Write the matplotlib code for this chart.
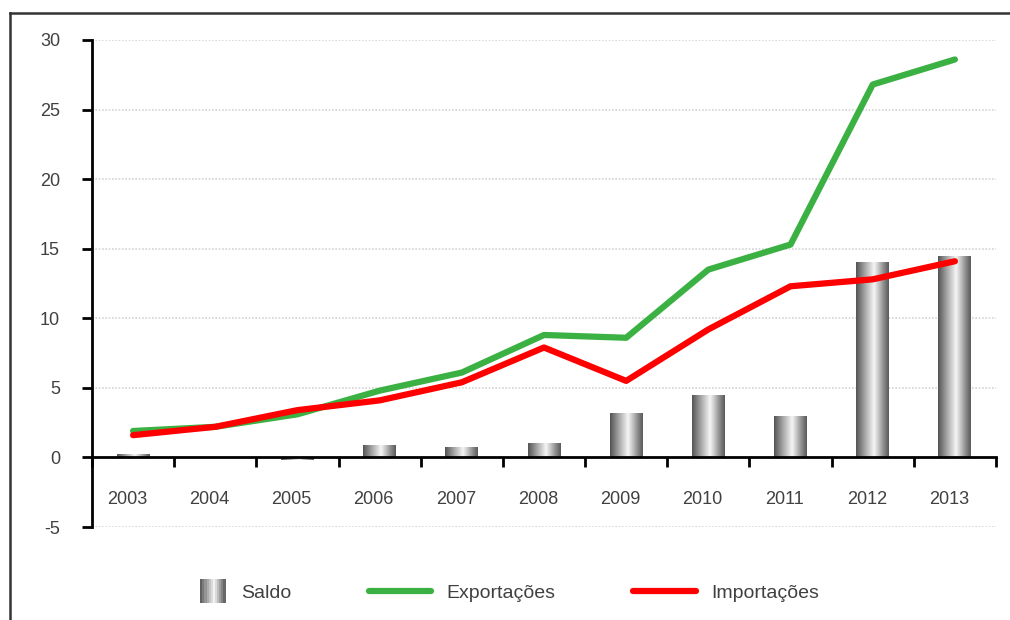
import matplotlib.pyplot as plt
import matplotlib.transforms as mtransforms
import numpy as np
from matplotlib.colors import LinearSegmentedColormap
from matplotlib.lines import Line2D
from matplotlib.patches import Rectangle
from matplotlib.legend_handler import HandlerBase

plt.rcParams['font.family'] = ['Liberation Sans', 'DejaVu Sans']
plt.rcParams['axes.unicode_minus'] = False

anos = ['2003', '2004', '2005', '2006', '2007', '2008', '2009', '2010', '2011', '2012', '2013']
saldo = [0.2, 0.0, -0.2, 0.8, 0.7, 1.0, 3.1, 4.4, 2.9, 14.0, 14.4]
exportacoes = [1.9, 2.2, 3.1, 4.8, 6.1, 8.8, 8.6, 13.5, 15.3, 26.8, 28.6]
importacoes = [1.6, 2.2, 3.4, 4.1, 5.4, 7.9, 5.5, 9.2, 12.3, 12.8, 14.1]

verde = '#3bb143'
vermelho = '#ff0000'
texto = '#404040'

cilindro = LinearSegmentedColormap.from_list(
    'cil', [(0, '#555555'), (0.18, '#8c8c8c'), (0.55, '#f6f6f6'),
            (0.85, '#8c8c8c'), (1, '#5a5a5a')])
grad = np.linspace(0, 1, 64).reshape(1, -1)


class HandlerCilindro(HandlerBase):
    def create_artists(self, legend, orig, xdescent, ydescent, width, height, fontsize, trans):
        w = 0.4 * width
        h = 1.7 * height
        x0 = -xdescent + width - w
        y0 = -ydescent + height / 2 - h / 2
        n = 12
        arts = []
        for i in range(n):
            r = Rectangle((x0 + i * w / n, y0), w / n + 0.3, h,
                          facecolor=cilindro((i + 0.5) / n), edgecolor='none',
                          transform=trans)
            arts.append(r)
        return arts


fig = plt.figure(figsize=(10.1, 6.2), dpi=100)
ax = fig.add_axes([92 / 1010, 1 - 527 / 620, (996 - 92) / 1010, (527 - 40) / 620])

x = np.arange(len(anos))
largura = 0.4
for xi, v in zip(x, saldo):
    if v == 0:
        continue
    ax.imshow(grad, cmap=cilindro, aspect='auto', interpolation='bilinear',
              extent=(xi - largura / 2, xi + largura / 2, min(0, v), max(0, v)), zorder=2)

ax.plot(x, exportacoes, color=verde, lw=4.5, solid_capstyle='round', solid_joinstyle='round', zorder=3)
ax.plot(x, importacoes, color=vermelho, lw=4.5, solid_capstyle='round', solid_joinstyle='round', zorder=4)

ax.set_xlim(-0.5, len(anos) - 0.5)
ax.set_ylim(-5, 30)
ax.set_yticks(np.arange(-5, 31, 5))
for v in np.arange(-5, 31, 5):
    if v != 0:
        ax.axhline(v, color='#d4d4d4', lw=1.2, ls=(0, (1, 1)), zorder=1)

for s in ['top', 'right']:
    ax.spines[s].set_visible(False)
ax.spines['left'].set_linewidth(2)
ax.spines['bottom'].set_position(('data', 0))
ax.spines['bottom'].set_linewidth(2)
ax.spines['bottom'].set_zorder(5)

ax.set_xticks(x)
ax.set_xticklabels(anos)
ax.set_xticks(np.arange(-0.5, len(anos), 1), minor=True)
ax.tick_params(axis='x', which='major', length=0, pad=24, labelsize=13, labelcolor=texto)
ax.tick_params(axis='x', which='minor', length=7, width=2, direction='out')
ax.tick_params(axis='y', length=7, width=2, direction='out', pad=16, labelsize=13, labelcolor=texto)

desloc = mtransforms.ScaledTranslation(-6 / 100, 0, fig.dpi_scale_trans)
for lab in ax.get_xticklabels():
    lab.set_transform(lab.get_transform() + desloc)

handles = [Rectangle((0, 0), 1, 1),
           Line2D([], [], color=verde, lw=4.5, solid_capstyle='round'),
           Line2D([], [], color=vermelho, lw=4.5, solid_capstyle='round')]
fig.legend(handles, ['Saldo', 'Exportações', 'Importações'],
           handler_map={Rectangle: HandlerCilindro()},
           loc='center', bbox_to_anchor=(491 / 1010, 1 - 593 / 620), ncol=3,
           frameon=False, fontsize=14, labelcolor=texto, handlelength=3.2,
           handletextpad=0.8, columnspacing=4.0)

# moldura
fig.add_artist(Line2D([10 / 1010, 1], [1 - 13 / 620, 1 - 13 / 620], color='#333333', lw=1.8))
fig.add_artist(Line2D([10 / 1010, 10 / 1010], [0, 1 - 13 / 620], color='#333333', lw=1.8))

fig.savefig('out.png', dpi=100)
